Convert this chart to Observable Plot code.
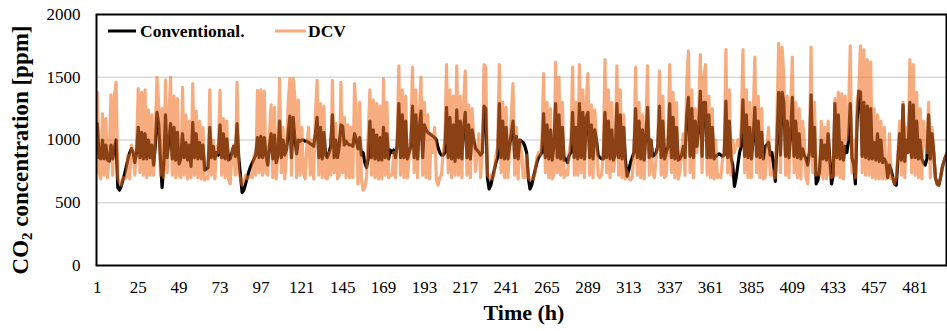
<!DOCTYPE html>
<html><head><meta charset="utf-8">
<script src="https://cdn.jsdelivr.net/npm/d3@7"></script>
<script src="https://cdn.jsdelivr.net/npm/@observablehq/plot@0.6"></script>
<style>html,body{margin:0;padding:0;background:#fff}</style>
</head><body>
<script>
// CO2 concentration [ppm], hourly, hours 1..500
const conventional = [
1130,860,850,1000,850,960,840,830,960,850,940,1000,
620,600,630,680,730,790,850,900,930,900,820,900,
1100,860,1060,850,1050,850,1000,860,960,800,950,1220,
1130,860,620,800,1200,860,1000,1130,850,1100,840,1060,
810,850,1050,860,980,840,960,790,1140,860,1050,850,
980,850,960,760,770,780,1100,860,950,850,900,880,
1120,860,1050,850,1010,840,850,900,950,870,1130,860,
720,580,600,650,700,750,790,820,850,880,1020,860,
1030,860,1020,880,800,950,1050,850,1040,820,880,1150,
860,1000,880,920,1050,1190,860,1180,1000,890,1000,990,
1000,1000,990,990,980,970,960,950,1050,1180,860,1100,
850,1060,880,860,900,950,1200,860,1000,860,950,1120,
1110,960,990,970,960,960,950,1050,1000,930,1020,880,
900,820,780,850,1150,860,1080,850,1040,840,1020,840,
1100,860,1050,850,920,900,920,860,960,1290,860,1200,
860,1150,850,900,950,1270,860,1200,850,1100,1230,860,
1120,1080,1060,1050,1040,1030,1020,1000,940,900,880,880,
900,1260,860,1180,850,1120,830,1240,860,1150,850,1100,
1220,860,1120,850,1080,1000,930,920,900,880,900,1270,
1250,700,610,640,700,760,820,860,1290,860,1150,850,
1100,850,950,1050,1150,860,1030,850,1000,990,980,950,
900,700,610,640,700,760,820,860,880,900,1210,860,
1120,850,1080,840,950,1290,860,1200,850,1100,840,850,
820,880,900,1220,860,1100,850,1290,860,1220,850,1180,
1220,860,1120,850,1080,1000,880,860,850,850,1220,860,
1150,850,1080,840,880,1290,860,1200,850,1100,840,710,
760,820,860,900,1250,860,1150,850,1080,840,1030,1260,
860,1000,870,880,900,950,1270,860,1150,850,900,950,
1290,860,1180,850,1100,840,850,880,950,860,1200,1340,
870,1250,860,1150,950,1100,1390,870,1300,1300,860,1200,
860,1100,850,870,880,890,880,870,880,1310,860,1150,
860,800,630,700,800,900,950,1320,870,1200,860,1100,
850,1020,1260,870,1150,860,1060,850,950,960,980,880,
900,800,670,1000,1380,880,1380,1300,870,1150,860,1050,
1340,870,1150,860,1050,850,930,880,850,800,900,1360,
870,1100,650,680,760,1000,850,960,840,1050,850,650,
720,1290,860,1200,850,980,840,950,900,1000,1290,860,
800,650,1150,1390,1380,870,1300,860,1270,850,1250,850,
980,840,1050,830,1000,820,850,820,700,800,760,700,
650,640,850,1050,840,1280,830,1000,900,1300,860,1280,
860,1150,850,1000,850,820,800,850,1200,850,1050,900,
700,650,640,700,780,830,870,900
];
const dcv = [
1380,740,690,1210,720,1170,700,880,1360,720,1350,1460,
700,660,640,700,690,700,880,690,960,900,720,950,
1410,740,1380,720,1400,700,1240,720,1200,720,1050,1500,
1290,720,1250,700,1480,740,1200,1500,720,1350,700,1330,
720,700,1420,720,1200,690,1150,700,1450,720,1230,700,
1150,690,1100,680,700,690,1400,720,1000,690,950,900,
1395,720,1170,700,1150,690,650,880,960,720,1460,740,
700,640,680,720,690,700,720,700,880,720,1395,740,
1400,720,1390,740,720,1050,1280,700,1260,690,900,1490,
740,1100,690,860,1280,1490,720,1490,1340,700,1320,720,
1100,740,690,950,1100,720,1000,690,1200,1475,720,1290,
700,1270,700,690,900,720,1475,740,1130,690,720,1460,
740,1180,700,1120,700,1100,700,1450,1200,650,1300,690,
600,620,700,1050,1400,720,1320,700,1290,690,1270,690,
1490,720,1300,700,720,720,900,700,1000,1590,720,1400,
700,1350,700,850,1000,1580,740,1400,700,1200,1500,720,
1300,700,1200,690,1050,900,1100,690,640,700,720,900,
1000,1600,740,1400,700,1350,720,1590,720,1350,700,1300,
1550,720,1280,700,1250,1000,750,900,1050,700,900,1600,
1580,720,700,720,690,740,880,950,1600,740,1300,700,
1260,700,900,1200,1450,720,1100,690,1000,900,700,700,
880,700,680,700,690,740,860,900,880,1000,1530,740,
1300,700,1250,690,720,1620,740,1500,720,1300,700,750,
720,900,1000,1580,720,1300,720,1600,740,1400,700,1300,
1530,720,1280,700,1240,1000,720,700,720,900,1640,740,
1400,700,1300,750,900,1590,720,1400,700,1200,690,750,
700,680,700,900,1580,720,1300,700,1200,690,1100,1590,
720,1000,750,700,850,950,1550,720,1350,700,720,1000,
1600,740,1380,700,1300,690,750,900,1050,720,1450,1710,
740,1400,700,1250,900,1200,1680,740,1500,1600,720,1350,
700,1250,690,1000,700,720,700,850,900,1720,740,1400,
720,1000,900,950,1000,950,1100,1720,740,1400,700,1300,
700,1200,1660,740,1350,700,1250,690,700,900,1100,720,
720,750,700,1200,1770,740,1740,1500,720,1350,700,1250,
1660,740,1300,700,1250,690,1150,1000,700,650,900,1740,
740,1300,720,750,720,1150,690,1100,690,1150,720,700,
720,1330,720,1380,700,1370,690,1350,1000,1200,1750,740,
1000,700,1300,1400,1750,740,1720,720,1640,720,1620,700,
1250,690,1200,690,1150,690,1100,690,700,1050,690,700,
650,700,900,1150,720,1300,700,1100,900,1640,740,1600,
720,1380,700,1250,690,1150,1000,900,1300,700,1100,900,
700,650,640,700,780,830,870,900
];
const xTicks = [1,25,49,73,97,121,145,169,193,217,241,265,289,313,337,361,385,409,433,457,481];
const yTicks = [0,500,1000,1500,2000];
const gridValues = [500,1000,1500];
const seriesNames = ["Conventional.", "DCV"];
const seriesColors = ["#000000", "#F07020"];

const rows = conventional.map((v, i) => ({h: i + 1, conv: v, dcv: dcv[i]}));

const font = "'Liberation Serif', 'Times New Roman', serif";
const svg = Plot.plot({
  width: 947, height: 331,
  marginLeft: 96, marginRight: 1, marginTop: 14, marginBottom: 66,
  style: {fontFamily: font, fontSize: "17px", color: "#000", background: "#fff", overflow: "visible"},
  x: {domain: [0.5, 499.5]},
  y: {domain: [0, 2000]},
  marks: [
    Plot.gridY(gridValues, {stroke: "#d9d9d9", strokeOpacity: 1, strokeWidth: 1.5}),
    Plot.line(rows, {x: "h", y: "conv", stroke: seriesColors[0], strokeWidth: 3.2, strokeLinejoin: "round", clip: true}),
    Plot.line(rows, {x: "h", y: "dcv", stroke: seriesColors[1], strokeOpacity: 0.58, strokeWidth: 3.2, strokeLinejoin: "round", clip: true}),
    Plot.frame({stroke: "#000", strokeWidth: 2}),
    Plot.axisX(xTicks, {tickSize: 0, tickPadding: 15, label: null, tickFormat: d => String(d), fill: "#000"}),
    Plot.axisY(yTicks, {tickSize: 0, tickPadding: 16, label: null, tickFormat: d => String(d), fill: "#000"})
  ]
});
document.body.appendChild(svg);

const s = d3.select(svg);
// y-axis title
const yt = s.append("text")
  .attr("transform", "translate(28,150) rotate(-90)")
  .attr("text-anchor", "middle")
  .style("font-family", font).style("font-weight", "bold").style("font-size", "23px").attr("fill", "#000");
yt.append("tspan").text("CO");
yt.append("tspan").attr("dy", 4).style("font-size", "15px").text("2");
yt.append("tspan").attr("dy", -4).text(" concentration [ppm]");
// x-axis title
s.append("text")
  .attr("x", 524).attr("y", 320).attr("text-anchor", "middle")
  .style("font-family", font).style("font-weight", "bold").style("font-size", "22px").attr("fill", "#000")
  .text("Time (h)");
// legend
const leg = [
  {x1: 108, x2: 136, tx: 140, op: 1},
  {x1: 275, x2: 306, tx: 308, op: 0.58}
];
leg.forEach((l, i) => {
  s.append("line").attr("x1", l.x1).attr("x2", l.x2).attr("y1", 31).attr("y2", 31)
    .attr("stroke", seriesColors[i]).attr("stroke-opacity", l.op).attr("stroke-width", 3);
  s.append("text").attr("x", l.tx).attr("y", 37).attr("text-anchor", "start")
    .style("font-family", font).style("font-weight", "bold").style("font-size", "17.5px").attr("fill", "#000")
    .text(seriesNames[i]);
});
</script>
</body></html>
